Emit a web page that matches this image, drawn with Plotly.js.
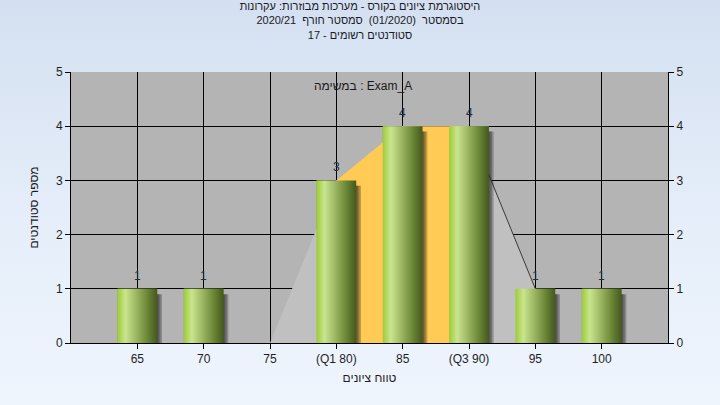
<!DOCTYPE html>
<html>
<head>
<meta charset="utf-8">
<script src="https://cdn.plot.ly/plotly-3.0.1.min.js"></script>
<style>
  html, body { margin: 0; padding: 0; }
  body { width: 720px; height: 405px; background: linear-gradient(to bottom, #d4e0f1 0%, #e4edf9 50%, #eff5fd 100%); }
  #chart { width: 720px; height: 405px; }
</style>
</head>
<body>
<div id="chart"></div>
<script>
// ---- data ----
const categories = [65, 70, 75, 80, 85, 90, 95, 100];
const tickLabels = ['65', '70', '75', '(Q1 80)', '85', '(Q3 90)', '95', '100'];
const counts = [1, 1, 0, 3, 4, 4, 1, 1];
const q1 = 80;
const q3 = 90;
const areaStart = 75;
const areaEnd = 95;
const titleLines = [
  'היסטוגרמת ציונים בקורס - מערכות מבוזרות: עקרונות',
  'בסמסטר  (01/2020)  סמסטר חורף  2020/21',
  'סטודנטים רשומים - 17'
];
const taskLabel = 'במשימה : Exam_A';
const xTitle = 'טווח ציונים';
const yTitle = 'מספר סטודנטים';

// ---- styling constants ----
const FONT = '"Liberation Sans", Arial, "DejaVu Sans", sans-serif';
const BAR_W = 3;
const SHADOW_STEPS = [0.12, 0.24, 0.36];
const SHADOW_DY = 0.1;
const greyFill = '#c0c0c0';
const orangeFill = '#ffcb55';
const barScale = [[0, '#9dcb38'], [0.2, '#c9e58e'], [0.45, '#a0ba66'], [0.75, '#6b8736'], [1, '#44581d']];

function segment(a, b) {
  const i = categories.indexOf(a), j = categories.indexOf(b);
  return { x: categories.slice(i, j + 1), y: counts.slice(i, j + 1) };
}

const traces = [];

// base bar trace (covered by gradient faces)
traces.push({
  type: 'bar', x: categories, y: counts, width: BAR_W,
  marker: { color: '#8aa84a', line: { width: 0 } },
  hoverinfo: 'skip'
});

// distribution area behind the bars
const segA = segment(areaStart, q1);
const segB = segment(q1, q3);
const segC = segment(q3, areaEnd);
traces.push({ type: 'scatter', mode: 'lines', x: segA.x, y: segA.y, fill: 'tozeroy',
  fillcolor: greyFill, line: { width: 0, color: greyFill }, hoverinfo: 'skip' });
traces.push({ type: 'scatter', mode: 'lines', x: segB.x, y: segB.y, fill: 'tozeroy',
  fillcolor: orangeFill, line: { width: 0, color: orangeFill }, hoverinfo: 'skip' });
traces.push({ type: 'scatter', mode: 'lines', x: segC.x, y: segC.y, fill: 'tozeroy',
  fillcolor: greyFill, line: { width: 1, color: '#3a3a3a' }, hoverinfo: 'skip' });

// soft shadows
SHADOW_STEPS.forEach(dx => {
  categories.forEach((c, i) => {
    const v = counts[i];
    if (v <= 0) return;
    const x0 = c - BAR_W / 2 + dx, x1 = c + BAR_W / 2 + dx;
    traces.push({ type: 'scatter', mode: 'lines',
      x: [x0, x1, x1, x0, x0], y: [-SHADOW_DY, -SHADOW_DY, v - SHADOW_DY, v - SHADOW_DY, -SHADOW_DY],
      fill: 'toself', fillcolor: 'rgba(30,30,30,0.28)', line: { width: 0 }, hoverinfo: 'skip' });
  });
});

// gradient bar faces
categories.forEach((c, i) => {
  const v = counts[i];
  if (v <= 0) return;
  const x0 = c - BAR_W / 2, x1 = c + BAR_W / 2;
  traces.push({ type: 'scatter', mode: 'lines',
    x: [x0, x1, x1, x0, x0], y: [0, 0, v, v, 0],
    fill: 'toself', fillcolor: '#8aa84a',
    fillgradient: { type: 'horizontal', colorscale: barScale },
    line: { width: 0 }, hoverinfo: 'skip' });
});

// right axis companion
traces.push({ type: 'scatter', mode: 'markers', x: categories, y: counts, yaxis: 'y2',
  marker: { opacity: 0 }, hoverinfo: 'skip' });

const axisFont = { family: FONT, size: 12, color: '#1e1e1e' };

// value labels above bars
const valueLabels = [];
categories.forEach((c, i) => {
  if (counts[i] <= 0) return;
  valueLabels.push({
    x: c, y: counts[i], xref: 'x', yref: 'y', text: String(counts[i]),
    showarrow: false, xanchor: 'center', yanchor: 'middle', yshift: 13,
    font: { family: FONT, size: 12, color: '#1f2d3d' }
  });
});

const layout = {
  width: 720, height: 405,
  margin: { l: 71, r: 52, t: 72, b: 62 },
  paper_bgcolor: 'rgba(0,0,0,0)',
  plot_bgcolor: '#b4b4b4',
  showlegend: false,
  hovermode: false,
  barmode: 'overlay',
  title: {
    text: titleLines.join('<br>'),
    font: { family: FONT, size: 11, color: '#1a1a26' },
    x: 0.5, xref: 'container', xanchor: 'center',
    y: 1 - 10 / 405, yref: 'container', yanchor: 'top'
  },
  xaxis: {
    range: [60, 105],
    tickmode: 'array', tickvals: categories, ticktext: tickLabels,
    showgrid: true, gridcolor: '#000000', gridwidth: 1,
    showline: true, linecolor: '#000000', linewidth: 1,
    ticks: 'outside', ticklen: 5, tickcolor: '#000000',
    zeroline: false, tickfont: axisFont,
    title: { text: xTitle, font: axisFont, standoff: 8 },
    fixedrange: true
  },
  yaxis: {
    range: [0, 5], dtick: 1, tick0: 0,
    showgrid: true, gridcolor: '#000000', gridwidth: 1,
    showline: true, linecolor: '#000000', linewidth: 1,
    ticks: 'outside', ticklen: 5, tickcolor: '#000000',
    zeroline: false, tickfont: axisFont,
    title: { text: yTitle, font: axisFont, standoff: 14 },
    fixedrange: true
  },
  yaxis2: {
    overlaying: 'y', side: 'right', range: [0, 5], dtick: 1, tick0: 0,
    showgrid: false, zeroline: false,
    showline: true, linecolor: '#000000', linewidth: 1,
    ticks: 'outside', ticklen: 5, tickcolor: '#000000',
    tickfont: axisFont, fixedrange: true
  },
  annotations: [{
    text: taskLabel, xref: 'paper', yref: 'paper',
    x: (363 - 71) / 597, y: 1 - (86 - 72) / 271,
    xanchor: 'center', yanchor: 'middle', showarrow: false,
    font: { family: FONT, size: 12, color: '#1a1a1a' }
  }].concat(valueLabels)
};

Plotly.newPlot('chart', traces, layout, { displayModeBar: false, staticPlot: true });
</script>
</body>
</html>
